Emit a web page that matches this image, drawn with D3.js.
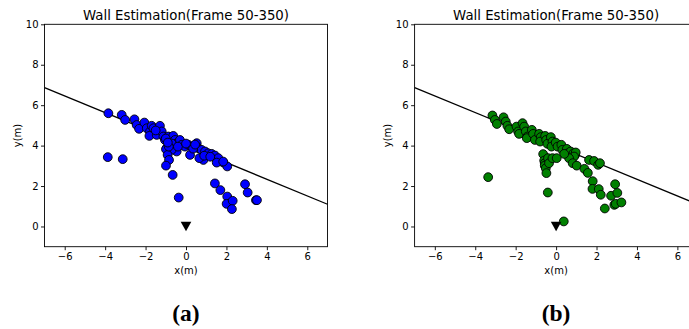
<!DOCTYPE html>
<html>
<head>
<meta charset="utf-8">
<script src="https://cdn.jsdelivr.net/npm/d3@7/dist/d3.min.js"></script>
<style>
  html, body { margin: 0; padding: 0; background: #fff; overflow: hidden; }
  svg { display: block; }
</style>
</head>
<body>
<svg id="chart" width="689" height="329"></svg>
<script>
// Axis ticks
const xTicks = [-6, -4, -2, 0, 2, 4, 6];
const yTicks = [0, 2, 4, 6, 8, 10];
const xDomain = [-7, 7];
const yDomain = [-1, 10];

// Fitted wall line (end points across the x range), shared by both panels
const wallLineX = [-7, 7];
const wallLineY = [6.87, 1.10];

// Sensor position
const sensorX = [0];
const sensorY = [0];

// Panel (a): detected reflection points
const pointsAX = [
  -3.84, -3.18, -3.01, -2.55, -2.44, -2.32, -2.06, -1.94, -1.78, -1.70,
  -1.61, -1.81, -1.45, -1.29, -1.20, -1.12, -1.04, -0.87, -0.79, -0.63,
  -0.54, -0.46, -0.30, -0.21, -0.05, 0.12, 0.28, 0.53, 0.61, 0.77,
  0.94, 1.10, 1.27, 1.43, 1.60, 1.85, 2.04, 1.52, 0.86, 0.66,
  0.20, -0.46, -0.71, -0.96, -0.99, -0.91, -0.84, -0.99, -0.66, -0.36,
  -3.87, -3.13, 1.43, 1.70, 2.04, 2.01, 2.31, 2.27, 2.92, 3.05,
  3.46, 3.51, -1.50, -1.00, -0.70, -0.40, 0.00, 0.35, 0.45, 0.90,
  1.20, -0.85, -0.90, 1.84
];
const pointsAY = [
  5.60, 5.52, 5.27, 5.30, 5.02, 4.83, 5.14, 4.86, 4.70, 4.98,
  4.86, 4.48, 4.53, 4.98, 4.70, 4.45, 4.28, 4.45, 4.20, 4.48,
  4.28, 4.12, 4.28, 4.04, 3.95, 4.04, 3.95, 4.12, 3.87, 3.79,
  3.71, 3.62, 3.59, 3.51, 3.38, 3.16, 2.97, 3.16, 3.29, 3.38,
  3.54, 3.71, 3.79, 3.87, 3.82, 3.54, 3.29, 3.01, 2.55, 1.43,
  3.43, 3.33, 2.13, 1.80, 1.48, 1.12, 1.27, 0.86, 2.09, 1.68,
  1.30, 1.30, 4.75, 4.35, 4.10, 3.95, 4.10, 3.85, 4.05, 3.50,
  3.45, 3.95, 4.15, 3.21
];

// Panel (b): detected reflection points
const pointsBX = [
  -3.15, -3.03, -2.93, -2.60, -2.49, -2.41, -2.32, -1.96, -1.88, -1.83,
  -1.66, -1.58, -1.50, -1.42, -1.45, -1.20, -1.14, -1.05, -0.84, -0.76,
  -0.79, -0.54, -0.49, -0.43, -0.26, -0.18, -0.23, -0.02, 0.07, 0.26,
  0.31, 0.53, 0.59, 0.72, 0.86, 0.94, 0.97, 0.89, 0.64, 0.82,
  1.02, 0.40, -0.64, -0.59, -0.56, -0.56, -0.51, -0.48, -0.40, -0.35,
  -0.18, 0.03, 1.63, 1.88, 2.08, 2.17, 1.40, 1.57, 1.81, 1.80,
  2.11, 2.21, 2.41, 2.72, 2.92, 3.03, 2.88, 2.95, 3.23, -3.36,
  -0.41, 0.38
];
const pointsBY = [
  5.49, 5.27, 5.07, 5.40, 5.19, 4.98, 4.81, 4.94, 4.70, 4.58,
  5.11, 4.94, 4.70, 4.45, 4.37, 4.78, 4.58, 4.28, 4.58, 4.42,
  4.20, 4.48, 4.28, 4.09, 4.42, 4.20, 3.95, 4.15, 3.95, 4.04,
  3.79, 3.84, 3.62, 3.71, 3.62, 3.54, 3.66, 3.46, 3.38, 3.13,
  3.01, 3.59, 3.58, 3.26, 3.13, 3.01, 2.88, 2.64, 3.38, 3.13,
  3.38, 3.38, 3.29, 3.24, 3.05, 3.13, 2.85, 2.65, 2.24, 1.86,
  1.85, 1.57, 0.89, 1.52, 2.09, 1.66, 1.07, 1.12, 1.19, 2.44,
  1.68, 0.25
];

const titleText = "Wall Estimation(Frame 50-350)";
const xLabel = "x(m)";
const yLabel = "y(m)";

const svg = d3.select("#chart");
const font = "'DejaVu Sans', sans-serif";

function drawPanel(left, xs, ys, fill, caption) {
  const width = 283, top = 24.3, height = 222.4;
  const x = d3.scaleLinear().domain(xDomain).range([left, left + width]);
  const y = d3.scaleLinear().domain(yDomain).range([top + height, top]);
  const g = svg.append("g");

  // Wall line
  g.append("path")
    .datum(d3.zip(wallLineX, wallLineY))
    .attr("d", d3.line().x(d => x(d[0])).y(d => y(d[1])))
    .attr("fill", "none")
    .attr("stroke", "#000")
    .attr("stroke-width", 1.3);

  // Points
  g.append("g").selectAll("circle")
    .data(d3.zip(xs, ys))
    .join("circle")
    .attr("cx", d => x(d[0]))
    .attr("cy", d => y(d[1]))
    .attr("r", 4.4)
    .attr("fill", fill)
    .attr("stroke", "#000")
    .attr("stroke-width", 0.9);

  // Sensor marker (downward triangle)
  g.append("g").selectAll("path")
    .data(d3.zip(sensorX, sensorY))
    .join("path")
    .attr("transform", d => `translate(${x(d[0])},${y(d[1])})`)
    .attr("d", "M-5.3,-4.8L5.3,-4.8L0,4.8Z")
    .attr("fill", "#000");

  // Frame
  g.append("rect")
    .attr("x", left).attr("y", top)
    .attr("width", width).attr("height", height)
    .attr("fill", "none").attr("stroke", "#000").attr("stroke-width", 0.9);

  // Axes
  const xAxis = g.append("g")
    .attr("transform", `translate(0,${top + height})`)
    .call(d3.axisBottom(x).tickValues(xTicks).tickSizeInner(3.5).tickSizeOuter(0)
      .tickFormat(d => d < 0 ? "\u2212" + Math.abs(d) : d));
  const yAxis = g.append("g")
    .attr("transform", `translate(${left},0)`)
    .call(d3.axisLeft(y).tickValues(yTicks).tickSizeInner(3.5).tickSizeOuter(0));
  [xAxis, yAxis].forEach(a => {
    a.select(".domain").remove();
    a.selectAll("line").attr("stroke", "#000").attr("stroke-width", 0.9);
    a.selectAll("text").attr("font-family", font).attr("font-size", 10).attr("fill", "#000");
  });
  xAxis.selectAll("text").attr("dy", "0.71em").attr("y", 6);
  yAxis.selectAll("text").attr("x", -6);

  // Title and axis labels
  g.append("text")
    .attr("x", left + width / 2).attr("y", 20)
    .attr("text-anchor", "middle")
    .attr("font-family", font).attr("font-size", 13.3)
    .text(titleText);
  g.append("text")
    .attr("x", left + width / 2).attr("y", 274)
    .attr("text-anchor", "middle")
    .attr("font-family", font).attr("font-size", 10)
    .text(xLabel);
  g.append("text")
    .attr("transform", `translate(${left - 24},${top + height / 2}) rotate(-90)`)
    .attr("text-anchor", "middle")
    .attr("font-family", font).attr("font-size", 10)
    .text(yLabel);

  // Sub-figure caption
  svg.append("text")
    .attr("x", left + width / 2).attr("y", 321)
    .attr("text-anchor", "middle")
    .attr("font-family", "'Liberation Serif', serif")
    .attr("font-weight", "bold")
    .attr("font-size", 23.5)
    .text(caption);
}

drawPanel(44.5, pointsAX, pointsAY, "#0000ff", "(a)");
drawPanel(414.6, pointsBX, pointsBY, "#008000", "(b)");
</script>
</body>
</html>
